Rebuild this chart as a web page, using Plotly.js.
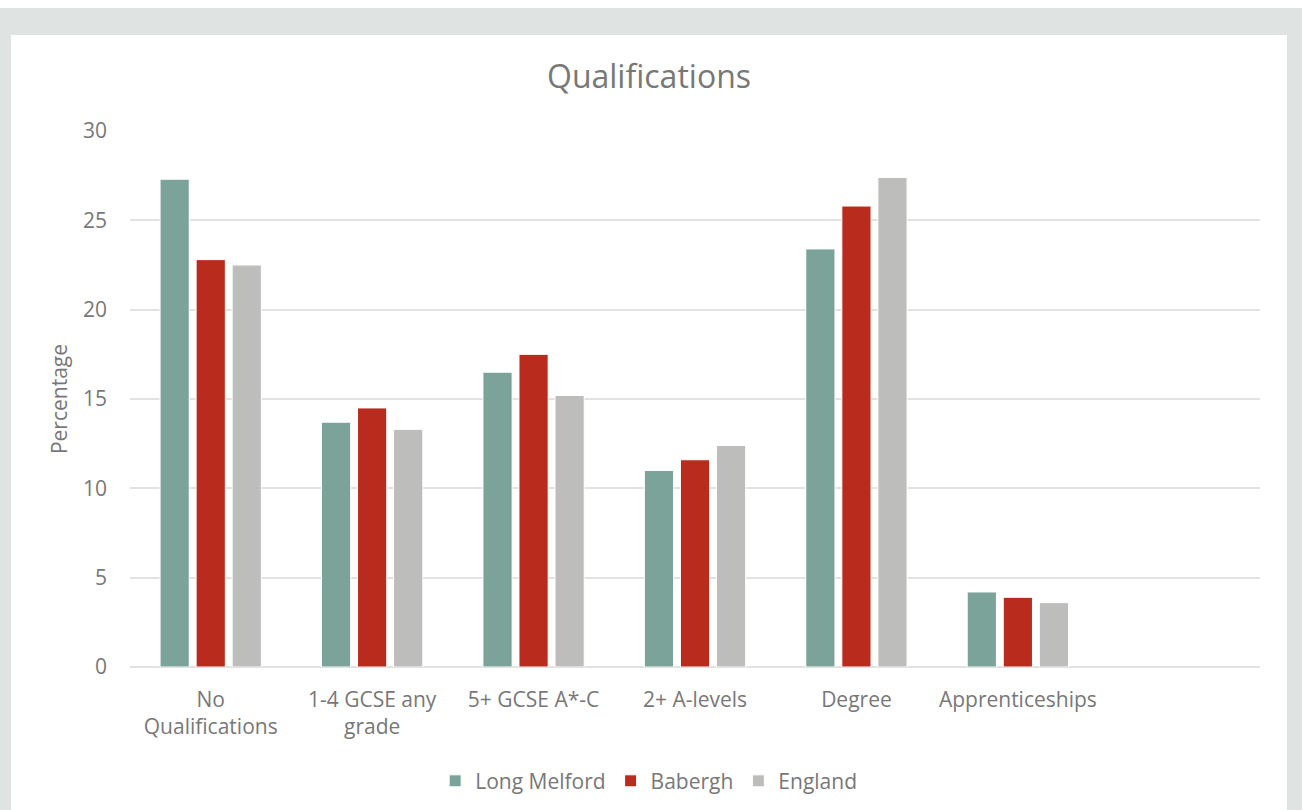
<!DOCTYPE html>
<html>
<head>
<meta charset="utf-8">
<script src="https://cdn.plot.ly/plotly-3.0.1.min.js"></script>
<style>
  html, body { margin: 0; padding: 0; background: #ffffff; width: 1302px; height: 810px; overflow: hidden; }
  #frame { position: absolute; left: 0; top: 8px; width: 1302px; height: 802px; background: #dfe4e2; }
  #chart { position: absolute; left: 11px; top: 27px; width: 1276px; height: 775px; background: #ffffff; }
</style>
</head>
<body>
<div id="frame"><div id="chart"></div></div>
<script>
// Qualification levels (percent of residents aged 16+)
const categories = ["No<br>Qualifications", "1-4 GCSE any<br>grade", "5+ GCSE A*-C", "2+ A-levels", "Degree", "Apprenticeships"];
const longMelford = [27.3, 13.7, 16.5, 11.0, 23.4, 4.2];
const babergh     = [22.8, 14.5, 17.5, 11.6, 25.8, 3.9];
const england     = [22.5, 13.3, 15.2, 12.4, 27.4, 3.6];
const yTicks = [0, 5, 10, 15, 20, 25, 30];

const textColor = "#787878";
const gridColor = "#e2e2e2";
const fontFamily = "'Open Sans', 'Liberation Sans', sans-serif";

function series(name, values, color) {
  return {
    type: "bar",
    name: name,
    x: categories,
    y: values,
    marker: { color: color, line: { color: "#ffffff", width: 1 } },
    hoverinfo: "x+y+name"
  };
}

const data = [
  series("Long Melford", longMelford, "#7ca39a"),
  series("Babergh", babergh, "#b92b1d"),
  series("England", england, "#bdbdbc")
];

const layout = {
  width: 1276,
  height: 775,
  margin: { l: 119, r: 27, t: 96, b: 143, autoexpand: false },
  paper_bgcolor: "#ffffff",
  plot_bgcolor: "#ffffff",
  font: { family: fontFamily, color: textColor, size: 21 },
  title: {
    text: "Qualifications",
    font: { family: fontFamily, size: 32, color: textColor },
    x: 0.5, xanchor: "center",
    y: 1 - (42 / 775), yanchor: "middle"
  },
  barmode: "group",
  bargap: 0.33,
  bargroupgap: 0.19,
  xaxis: {
    type: "category",
    range: [-0.5, 6.5],
    automargin: false,
    tickangle: 0,
    showgrid: false,
    showline: false,
    ticks: "",
    ticklabelstandoff: 18,
    tickfont: { size: 21, color: textColor },
    fixedrange: true
  },
  yaxis: {
    range: [0, 30],
    automargin: false,
    tickvals: yTicks,
    ticktext: yTicks.map(String),
    showgrid: true,
    gridcolor: gridColor,
    gridwidth: 2,
    zeroline: true,
    zerolinecolor: gridColor,
    zerolinewidth: 2,
    showline: false,
    ticks: "",
    ticklabelstandoff: 22,
    tickfont: { size: 21, color: textColor },
    title: { text: "Percentage", font: { size: 21, color: textColor }, standoff: 9 },
    fixedrange: true
  },
  showlegend: true,
  legend: {
    orientation: "h",
    x: 0.459, xanchor: "center",
    y: -0.213, yanchor: "middle",
    font: { size: 21, color: textColor },
    itemclick: false,
    itemdoubleclick: false
  }
};

Plotly.newPlot("chart", data, layout, { displayModeBar: false, staticPlot: true });
</script>
</body>
</html>
